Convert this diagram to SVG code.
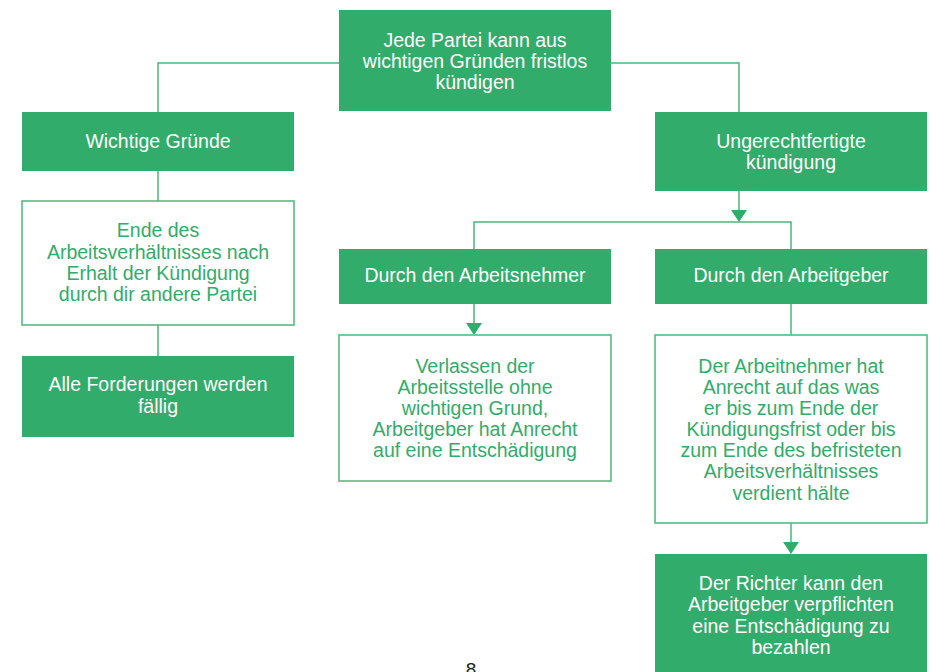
<svg xmlns="http://www.w3.org/2000/svg" width="930" height="672" viewBox="0 0 930 672">
<defs>
<style>
.fill{fill:#32ac6a;}
.out{fill:#ffffff;stroke:#4db67b;stroke-width:1.5;}
.wt{font-family:"Liberation Sans",Arial,sans-serif;font-size:19.5px;fill:#ffffff;text-anchor:middle;}
.gt{font-family:"Liberation Sans",Arial,sans-serif;font-size:19.5px;fill:#32ac6a;text-anchor:middle;}
.conn{fill:none;stroke:#4db67b;stroke-width:1.5;}
.head{fill:#32ac6a;}
</style>
</defs>
<rect width="930" height="672" fill="#ffffff"/>
<g id="connectors">
<path class="conn" d="M339,63 H158 V112"/>
<path class="conn" d="M611,63 H739 V112"/>
<path class="conn" d="M158,171 V201"/>
<path class="conn" d="M158,325 V356"/>
<path class="conn" d="M739,191 V210"/>
<polygon class="head" points="731,210 747,210 739,222"/>
<path class="conn" d="M474,249 V222 H791 V249"/>
<path class="conn" d="M474,304 V323"/>
<polygon class="head" points="466,323 482,323 474,335"/>
<path class="conn" d="M791,304 V335"/>
<path class="conn" d="M791,523 V542"/>
<polygon class="head" points="783,542 799,542 791,554"/>
</g>
<g id="n-top">
<rect class="fill" x="339" y="10" width="272" height="101"/>
<text class="wt" x="475" y="47">Jede Partei kann aus</text>
<text class="wt" x="475" y="68">wichtigen Gründen fristlos</text>
<text class="wt" x="475" y="89">kündigen</text>
</g>
<g id="n-wichtig">
<rect class="fill" x="22" y="112" width="272" height="59"/>
<text class="wt" x="158" y="148">Wichtige Gründe</text>
</g>
<g id="n-ende">
<rect class="out" x="22" y="201" width="272" height="124"/>
<text class="gt" x="158" y="237">Ende des</text>
<text class="gt" x="158" y="259">Arbeitsverhältnisses nach</text>
<text class="gt" x="158" y="280">Erhalt der Kündigung</text>
<text class="gt" x="158" y="301">durch dir andere Partei</text>
</g>
<g id="n-alle">
<rect class="fill" x="22" y="356" width="272" height="81"/>
<text class="wt" x="158" y="391">Alle Forderungen werden</text>
<text class="wt" x="158" y="413">fällig</text>
</g>
<g id="n-unger">
<rect class="fill" x="655" y="112" width="272" height="79"/>
<text class="wt" x="791" y="148">Ungerechtfertigte</text>
<text class="wt" x="791" y="169">kündigung</text>
</g>
<g id="n-nehmer">
<rect class="fill" x="339" y="249" width="272" height="55"/>
<text class="wt" x="475" y="282">Durch den Arbeitsnehmer</text>
</g>
<g id="n-geber">
<rect class="fill" x="655" y="249" width="272" height="55"/>
<text class="wt" x="791" y="282">Durch den Arbeitgeber</text>
</g>
<g id="n-verlassen">
<rect class="out" x="339" y="335" width="272" height="146"/>
<text class="gt" x="475" y="373">Verlassen der</text>
<text class="gt" x="475" y="394">Arbeitsstelle ohne</text>
<text class="gt" x="475" y="415">wichtigen Grund,</text>
<text class="gt" x="475" y="436">Arbeitgeber hat Anrecht</text>
<text class="gt" x="475" y="457">auf eine Entschädigung</text>
</g>
<g id="n-anrecht">
<rect class="out" x="655" y="335" width="272" height="188"/>
<text class="gt" x="791" y="373">Der Arbeitnehmer hat</text>
<text class="gt" x="791" y="394">Anrecht auf das was</text>
<text class="gt" x="791" y="415">er bis zum Ende der</text>
<text class="gt" x="791" y="436">Kündigungsfrist oder bis</text>
<text class="gt" x="791" y="457">zum Ende des befristeten</text>
<text class="gt" x="791" y="478">Arbeitsverhältnisses</text>
<text class="gt" x="791" y="500">verdient hälte</text>
</g>
<g id="n-richter">
<rect class="fill" x="655" y="554" width="272" height="118"/>
<text class="wt" x="791" y="590">Der Richter kann den</text>
<text class="wt" x="791" y="611">Arbeitgeber verpflichten</text>
<text class="wt" x="791" y="633">eine Entschädigung zu</text>
<text class="wt" x="791" y="654">bezahlen</text>
</g>
<text x="471" y="676" font-family="Liberation Sans, Arial, sans-serif" font-size="19" fill="#222222" text-anchor="middle">8</text>
</svg>
